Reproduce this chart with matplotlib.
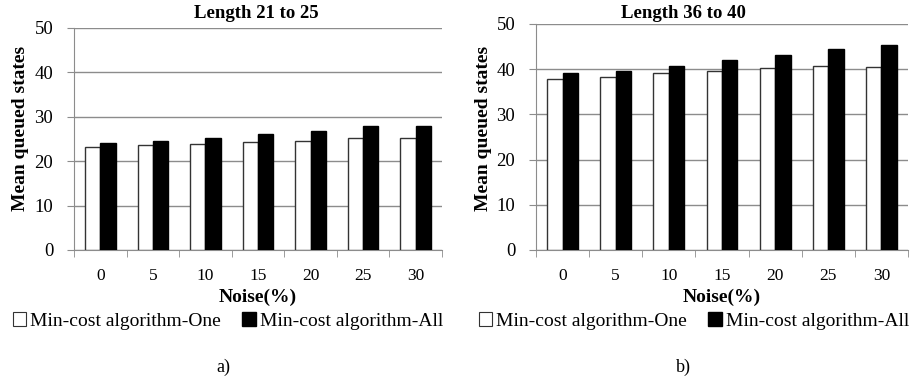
import numpy as np
import matplotlib.pyplot as plt
from matplotlib.patches import Patch

plt.rcParams['font.family'] = ['Liberation Serif', 'DejaVu Serif']

noise = ['0', '5', '10', '15', '20', '25', '30']
# Length 21 to 25
one_a = [23.1, 23.6, 23.9, 24.3, 24.6, 25.3, 25.3]
all_a = [24.1, 24.6, 25.3, 26.1, 26.8, 28.0, 28.0]
# Length 36 to 40
one_b = [37.9, 38.3, 39.1, 39.5, 40.3, 40.8, 40.5]
all_b = [39.1, 39.6, 40.8, 42.0, 43.1, 44.5, 45.3]

W, H = 913, 381
fig = plt.figure(figsize=(W / 100, H / 100), dpi=100)

grey = '#8c8c8c'


def panel(rect, one, allv, title, title_x, caption, cap_x, ylab_x, leg_x):
    ax = fig.add_axes([rect[0] / W, 1 - rect[3] / H, (rect[2] - rect[0]) / W, (rect[3] - rect[1]) / H])
    x = np.arange(len(noise))
    w = 0.29
    ax.bar(x - w / 2, one, w, color='white', edgecolor='#333333', linewidth=1.0, zorder=3)
    ax.bar(x + w / 2, allv, w, color='black', edgecolor='black', linewidth=1.0, zorder=3)
    ax.set_xlim(-0.5, len(noise) - 0.5)
    ax.set_ylim(0, 50)
    ax.set_yticks([0, 10, 20, 30, 40, 50])
    ax.yaxis.grid(True, color=grey, linewidth=1.0, zorder=0)
    ax.set_xticks(x)
    ax.set_xticklabels(noise)
    ax.set_xticks(np.arange(-0.5, len(noise)), minor=True)
    ax.tick_params(axis='x', which='major', length=0, pad=13, labelsize=12.5)
    ax.tick_params(axis='x', which='minor', length=5, color=grey, direction='out')
    ax.tick_params(axis='y', length=5, color=grey, pad=10, labelsize=13.5)
    for s in ['top', 'right']:
        ax.spines[s].set_visible(False)
    for s in ['left', 'bottom']:
        ax.spines[s].set_color(grey)
    fig.text((rect[0] + rect[2]) / 2 / W, 1 - 297 / H, 'Noise(%)', ha='center', va='center',
             fontsize=14, fontweight='bold')
    fig.text(ylab_x / W, 1 - 128 / H, 'Mean queued states', rotation=90, ha='center', va='center',
             fontsize=14, fontweight='bold')
    fig.text(title_x / W, 1 - 13 / H, title, ha='center', va='center', fontsize=13.5, fontweight='bold')
    fig.text(cap_x / W, 1 - 367 / H, caption, ha='center', va='center', fontsize=13)
    handles = [Patch(facecolor='white', edgecolor='#333333', linewidth=0.8),
               Patch(facecolor='black', edgecolor='black')]
    fig.legend(handles, ['Min-cost algorithm-One', 'Min-cost algorithm-All'], loc='center',
               bbox_to_anchor=(leg_x / W, 1 - 321 / H), ncol=2, frameon=False, fontsize=14,
               handlelength=0.7, handleheight=0.7, handletextpad=0.2, columnspacing=1.1)
    return ax


panel((74, 28, 442, 250), one_a, all_a, 'Length 21 to 25', 256, 'a)', 223, 21, 228)
panel((536, 24, 908, 250), one_b, all_b, 'Length 36 to 40', 683, 'b)', 683, 483, 694)

fig.savefig('out.png', dpi=100)
